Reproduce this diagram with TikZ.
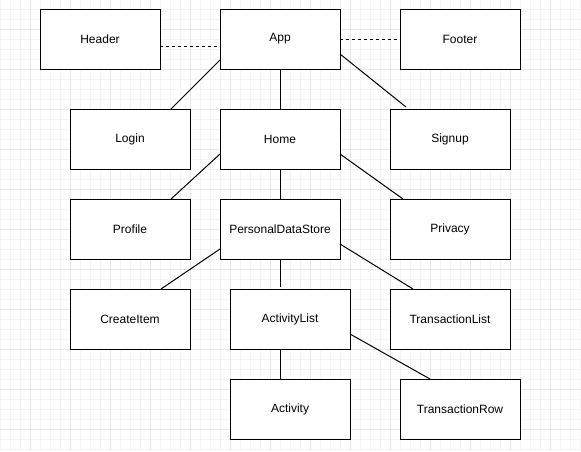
\documentclass[tikz,border=0pt]{standalone}
\usepackage{fontspec}
\setmainfont{Liberation Sans}
\usetikzlibrary{calc}

\begin{document}
\begin{tikzpicture}[x=0.75pt,y=0.75pt,yscale=-1,xscale=1,
  comp/.style={draw,line width=0.75pt,fill=white,minimum width=90pt,minimum height=45pt,inner sep=0pt,outer sep=0pt,font=\fontsize{9pt}{11pt}\selectfont},
  link/.style={line width=0.75pt},
  loose/.style={line width=0.75pt,dash pattern=on 2.25pt off 2.25pt}]
\useasboundingbox (0,0) rectangle (581,451);
\fill[white] (0,0) rectangle (581,451);

%Grid minor
\foreach \gx in {0,10,...,580} \draw[color={rgb, 255:red, 244; green, 244; blue, 244}, line width=0.75pt] (\gx,0) -- (\gx,451);
\foreach \gy in {9,19,...,449} \draw[color={rgb, 255:red, 244; green, 244; blue, 244}, line width=0.75pt] (0,\gy) -- (581,\gy);
%Grid major
\foreach \gx in {30,70,...,570} \draw[color={rgb, 255:red, 232; green, 232; blue, 232}, line width=0.75pt] (\gx,0) -- (\gx,451);
\foreach \gy in {29,69,...,449} \draw[color={rgb, 255:red, 232; green, 232; blue, 232}, line width=0.75pt] (0,\gy) -- (581,\gy);

% Components
\node[comp] (Header) at (100,39) {Header};
\node[comp] (App) at (280,39) {App};
\node[comp] (Footer) at (460,39) {Footer};
\node[comp] (Login) at (130,139) {Login};
\node[comp] (Home) at (280,139) {Home};
\node[comp] (Signup) at (450,139) {Signup};
\node[comp] (Profile) at (130,229) {Profile};
\node[comp] (DataStore) at (280,229) {PersonalDataStore};
\node[comp] (Privacy) at (450,229) {Privacy};
\node[comp] (CreateItem) at (130,319) {CreateItem};
\node[comp] (ActivityList) at (290,319) {ActivityList};
\node[comp] (TransList) at (450,319) {TransactionList};
\node[comp] (Activity) at (290,409) {Activity};
\node[comp] (TransRow) at (460,409) {TransactionRow};

% Dashed links
\draw[loose] ($(Header.east)+(0,7)$) -- ($(App.west)+(0,7)$);
\draw[loose] (App.east) -- (Footer.west);

% Tree links
\draw[link] ($(App.west)+(0,21)$) -- ($(Login.north)+(41,0)$);
\draw[link] (App.south) -- (Home.north);
\draw[link] ($(App.east)+(0,15)$) -- ($(Signup.north)+(-44,-2)$);
\draw[link] ($(Home.west)+(0,15)$) -- ($(Profile.north)+(41,0)$);
\draw[link] (Home.south) -- (DataStore.north);
\draw[link] ($(Home.east)+(0,15)$) -- ($(Privacy.north)+(-47,0)$);
\draw[link] ($(DataStore.west)+(0,20)$) -- ($(CreateItem.north)+(31,0)$);
\draw[link] (DataStore.south) -- ($(ActivityList.north)+(-10,-2)$);
\draw[link] ($(DataStore.east)+(0,15)$) -- ($(TransList.north)+(-37,0)$);
\draw[link] ($(ActivityList.south)+(-10,0)$) -- ($(Activity.north)+(-10,0)$);
\draw[link] ($(ActivityList.east)+(0,15)$) -- ($(TransRow.north)+(-30,0)$);

\end{tikzpicture}
\end{document}
